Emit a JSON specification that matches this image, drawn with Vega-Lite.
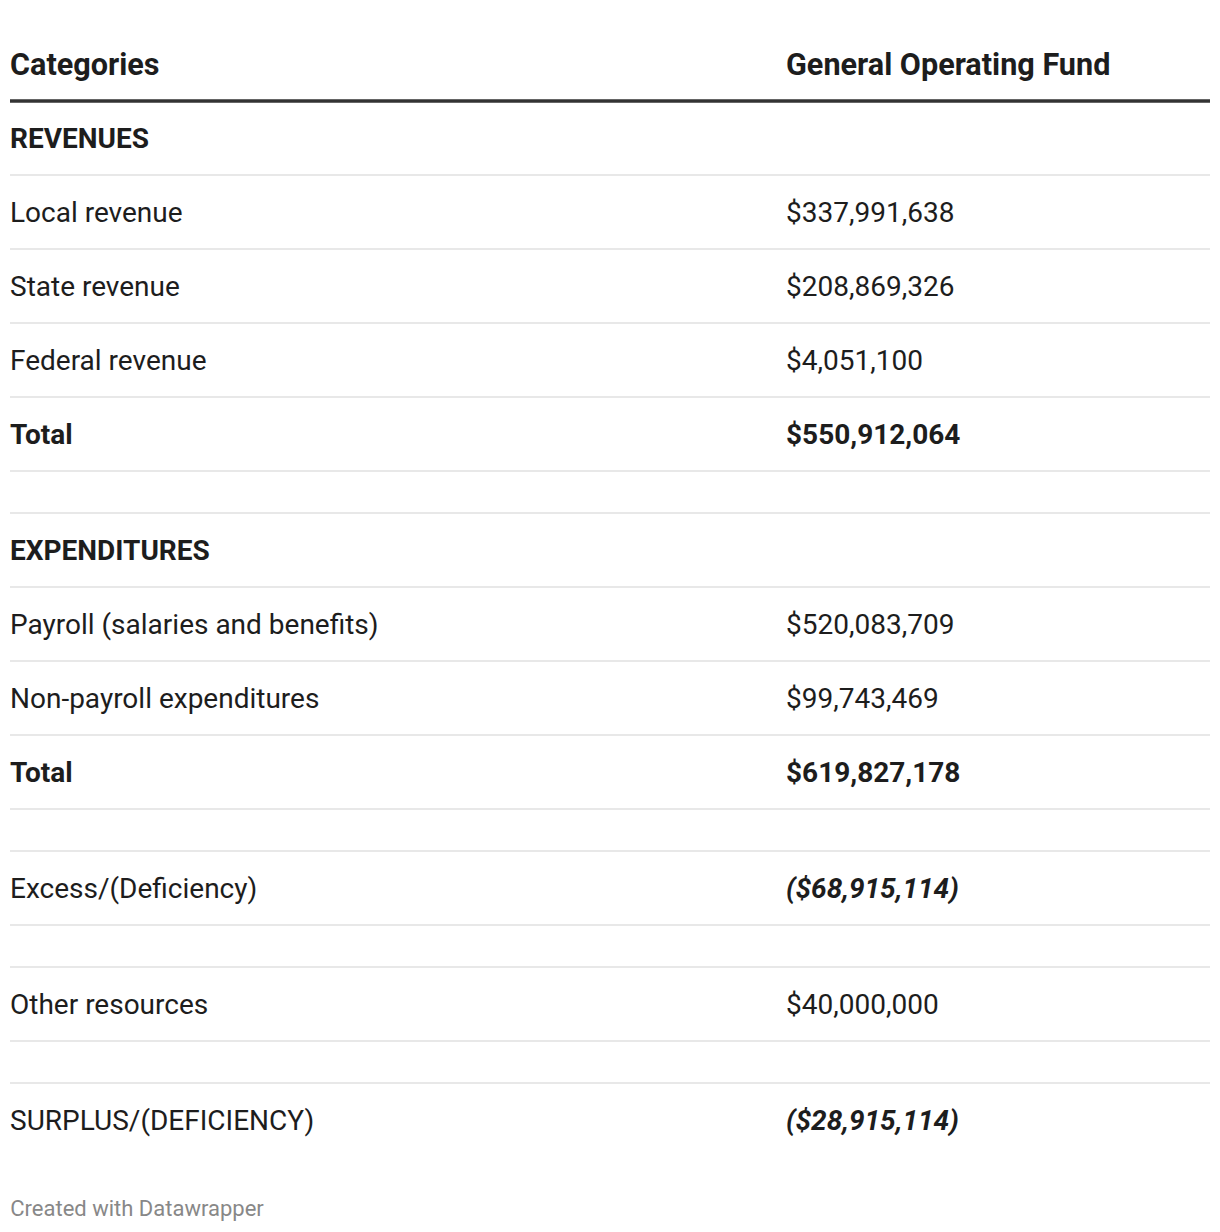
{
  "$schema": "https://vega.github.io/schema/vega-lite/v6.json",
  "padding": {"left": 8, "top": 27, "right": 10, "bottom": 10},
  "background": "white",
  "title": {"text": "Created with Datawrapper", "orient": "bottom", "anchor": "start", "fontSize": 22, "fontWeight": "normal", "color": "#888888", "font": "Roboto", "offset": 42, "dx": 2},
  "config": {"view": {"stroke": null}, "font": "Roboto", "text": {"font": "Roboto", "color": "#1d1d1d", "align": "left", "baseline": "middle", "fontSize": 28, "dy": 2}},
  "data": {"values": [
    {"section": "Revenues", "category": "Categories", "value": "General Operating Fund", "kind": "colhead"},
    {"section": "Revenues", "category": "REVENUES", "value": "", "kind": "group"},
    {"section": "Revenues", "category": "Local revenue", "value": "$337,991,638", "kind": "item"},
    {"section": "Revenues", "category": "State revenue", "value": "$208,869,326", "kind": "item"},
    {"section": "Revenues", "category": "Federal revenue", "value": "$4,051,100", "kind": "item"},
    {"section": "Revenues", "category": "Total", "value": "$550,912,064", "kind": "total"},
    {"section": "Expenditures", "category": "EXPENDITURES", "value": "", "kind": "group"},
    {"section": "Expenditures", "category": "Payroll (salaries and benefits)", "value": "$520,083,709", "kind": "item"},
    {"section": "Expenditures", "category": "Non-payroll expenditures", "value": "$99,743,469", "kind": "item"},
    {"section": "Expenditures", "category": "Total", "value": "$619,827,178", "kind": "total"},
    {"section": "Excess", "category": "Excess/(Deficiency)", "value": "($68,915,114)", "kind": "result"},
    {"section": "Other", "category": "Other resources", "value": "$40,000,000", "kind": "item"},
    {"section": "Surplus", "category": "SURPLUS/(DEFICIENCY)", "value": "($28,915,114)", "kind": "final"}
  ]},
  "facet": {"row": {"field": "section", "type": "nominal", "sort": ["Revenues", "Expenditures", "Excess", "Other", "Surplus"], "header": null}},
  "spacing": {"row": 40},
  "resolve": {"scale": {"y": "independent"}},
  "spec": {
    "width": 1200,
    "height": {"step": 74},
    "encoding": {
      "y": {"field": "category", "type": "nominal", "axis": null,
        "sort": ["Categories", "REVENUES", "Local revenue", "State revenue", "Federal revenue", "EXPENDITURES", "Payroll (salaries and benefits)", "Non-payroll expenditures", "Total", "Excess/(Deficiency)", "Other resources", "SURPLUS/(DEFICIENCY)"],
        "scale": {"paddingInner": 0, "paddingOuter": 0}}
    },
    "layer": [
      {
        "transform": [{"filter": "datum.kind != 'colhead' && datum.kind != 'final'"}],
        "mark": {"type": "rule", "stroke": "#e8e8e8", "strokeWidth": 2},
        "encoding": {"y": {"field": "category", "type": "nominal", "bandPosition": 1}}
      },
      {
        "transform": [{"filter": "indexof(['EXPENDITURES', 'Excess/(Deficiency)', 'Other resources', 'SURPLUS/(DEFICIENCY)'], datum.category) >= 0"}],
        "mark": {"type": "rule", "stroke": "#e8e8e8", "strokeWidth": 2},
        "encoding": {"y": {"field": "category", "type": "nominal", "bandPosition": 0}}
      },
      {
        "transform": [{"filter": "datum.kind == 'colhead'"}],
        "mark": {"type": "rule", "stroke": "#333333", "strokeWidth": 3.5},
        "encoding": {"y": {"field": "category", "type": "nominal", "bandPosition": 1}}
      },
      {
        "transform": [{"filter": "datum.kind == 'item' || datum.kind == 'result' || datum.kind == 'final'"}],
        "mark": {"type": "text"},
        "encoding": {
          "x": {"datum": "Categories", "type": "nominal", "scale": {"type": "point", "domain": ["Categories", "General Operating Fund"], "range": [0, 776], "padding": 0}, "axis": null},
          "text": {"field": "category"}
        }
      },
      {
        "transform": [{"filter": "datum.kind == 'group' || datum.kind == 'total'"}],
        "mark": {"type": "text", "fontWeight": "bold"},
        "encoding": {
          "x": {"datum": "Categories", "type": "nominal"},
          "text": {"field": "category"}
        }
      },
      {
        "transform": [{"filter": "datum.kind == 'colhead'"}],
        "mark": {"type": "text", "fontWeight": "bold", "fontSize": 30.6},
        "encoding": {
          "x": {"datum": "Categories", "type": "nominal"},
          "text": {"field": "category"}
        }
      },
      {
        "transform": [{"filter": "datum.kind == 'item'"}],
        "mark": {"type": "text"},
        "encoding": {
          "x": {"datum": "General Operating Fund", "type": "nominal"},
          "text": {"field": "value"}
        }
      },
      {
        "transform": [{"filter": "datum.kind == 'total'"}],
        "mark": {"type": "text", "fontWeight": "bold"},
        "encoding": {
          "x": {"datum": "General Operating Fund", "type": "nominal"},
          "text": {"field": "value"}
        }
      },
      {
        "transform": [{"filter": "datum.kind == 'result' || datum.kind == 'final'"}],
        "mark": {"type": "text", "fontWeight": "bold", "fontStyle": "italic"},
        "encoding": {
          "x": {"datum": "General Operating Fund", "type": "nominal"},
          "text": {"field": "value"}
        }
      },
      {
        "transform": [{"filter": "datum.kind == 'colhead'"}],
        "mark": {"type": "text", "fontWeight": "bold", "fontSize": 30.6},
        "encoding": {
          "x": {"datum": "General Operating Fund", "type": "nominal"},
          "text": {"field": "value"}
        }
      }
    ]
  }
}
